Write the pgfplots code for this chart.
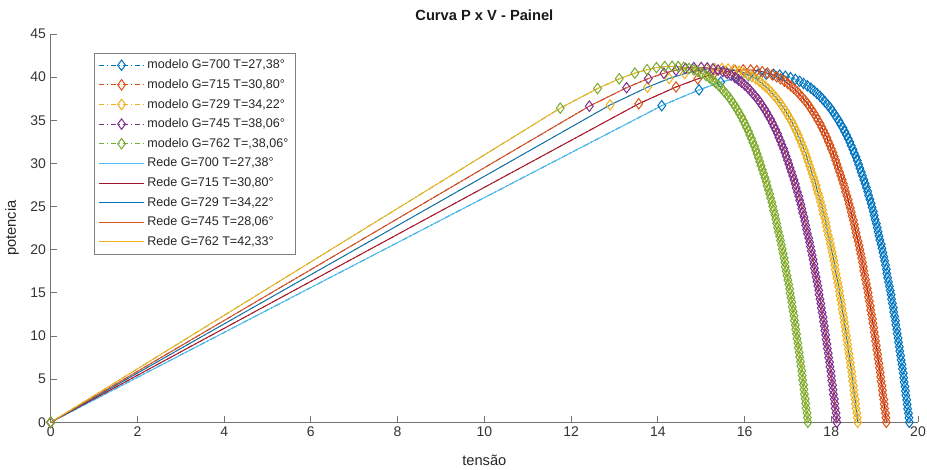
\documentclass[border=0pt]{standalone}
\usepackage{fontspec}
\setmainfont{Liberation Sans}
\usepackage{pgfplots}
\pgfplotsset{compat=1.18}
\usepackage{pgfplotstable}

% MATLAB default colour order
\definecolor{mblue}{rgb}{0,0.447,0.741}
\definecolor{morange}{rgb}{0.850,0.325,0.098}
\definecolor{myellow}{rgb}{0.929,0.694,0.125}
\definecolor{mpurple}{rgb}{0.494,0.184,0.556}
\definecolor{mgreen}{rgb}{0.466,0.674,0.188}
\definecolor{mcyan}{rgb}{0.301,0.745,0.933}
\definecolor{mred}{rgb}{0.635,0.078,0.184}

% G=700
\pgfplotstableread{
V P
0 0
14.09 36.69
14.95 38.53
15.45 39.42
15.81 39.91
16.09 40.19
16.31 40.33
16.50 40.36
16.67 40.33
16.81 40.24
16.94 40.11
17.06 39.94
17.17 39.74
17.27 39.52
17.36 39.27
17.45 39.00
17.53 38.72
17.60 38.43
17.67 38.11
17.74 37.79
17.80 37.46
17.86 37.12
17.92 36.77
17.98 36.41
18.03 36.04
18.08 35.66
18.13 35.28
18.18 34.90
18.22 34.50
18.27 34.11
18.31 33.70
18.35 33.30
18.39 32.88
18.43 32.47
18.46 32.05
18.50 31.62
18.53 31.19
18.57 30.76
18.60 30.33
18.63 29.89
18.66 29.45
18.69 29.01
18.72 28.56
18.75 28.11
18.78 27.66
18.81 27.21
18.84 26.75
18.86 26.29
18.89 25.83
18.92 25.37
18.94 24.91
18.97 24.44
18.99 23.97
19.01 23.50
19.04 23.03
19.06 22.56
19.08 22.08
19.10 21.60
19.12 21.12
19.15 20.64
19.17 20.16
19.19 19.68
19.21 19.20
19.23 18.71
19.25 18.22
19.27 17.73
19.28 17.24
19.30 16.75
19.32 16.26
19.34 15.77
19.36 15.27
19.38 14.78
19.39 14.28
19.41 13.78
19.43 13.28
19.44 12.78
19.46 12.28
19.48 11.78
19.49 11.28
19.51 10.77
19.52 10.27
19.54 9.76
19.55 9.26
19.57 8.75
19.58 8.24
19.60 7.73
19.61 7.22
19.63 6.71
19.64 6.20
19.66 5.69
19.67 5.17
19.68 4.66
19.70 4.14
19.71 3.63
19.72 3.11
19.74 2.60
19.75 2.08
19.76 1.56
19.78 1.04
19.79 0.52
19.80 0
}\tabA

% G=715
\pgfplotstableread{
V P
0 0
13.56 36.92
14.42 38.86
14.92 39.80
15.28 40.34
15.56 40.64
15.78 40.79
15.97 40.85
16.14 40.83
16.28 40.75
16.41 40.63
16.53 40.46
16.64 40.27
16.74 40.05
16.83 39.81
16.92 39.54
17.00 39.26
17.07 38.97
17.14 38.66
17.21 38.34
17.27 38.00
17.33 37.66
17.39 37.31
17.45 36.95
17.50 36.58
17.55 36.20
17.60 35.82
17.65 35.42
17.69 35.03
17.74 34.63
17.78 34.22
17.82 33.81
17.86 33.39
17.90 32.97
17.93 32.55
17.97 32.12
18.00 31.69
18.04 31.25
18.07 30.81
18.10 30.37
18.13 29.92
18.16 29.47
18.19 29.02
18.22 28.57
18.25 28.11
18.28 27.65
18.31 27.19
18.33 26.72
18.36 26.25
18.39 25.79
18.41 25.31
18.44 24.84
18.46 24.37
18.48 23.89
18.51 23.41
18.53 22.93
18.55 22.45
18.57 21.96
18.59 21.48
18.62 20.99
18.64 20.50
18.66 20.01
18.68 19.52
18.70 19.02
18.72 18.53
18.74 18.03
18.75 17.54
18.77 17.04
18.79 16.54
18.81 16.04
18.83 15.53
18.85 15.03
18.86 14.52
18.88 14.02
18.90 13.51
18.91 13.00
18.93 12.49
18.95 11.98
18.96 11.47
18.98 10.96
18.99 10.45
19.01 9.93
19.02 9.42
19.04 8.90
19.05 8.38
19.07 7.87
19.08 7.35
19.10 6.83
19.11 6.31
19.13 5.79
19.14 5.26
19.15 4.74
19.17 4.22
19.18 3.69
19.19 3.17
19.21 2.64
19.22 2.11
19.23 1.59
19.25 1.06
19.26 0.53
19.27 0
}\tabB

% G=729
\pgfplotstableread{
V P
0 0
12.90 36.78
13.76 38.83
14.26 39.84
14.62 40.42
14.90 40.75
15.12 40.94
15.31 41.01
15.48 41.01
15.62 40.95
15.75 40.84
15.87 40.69
15.98 40.50
16.08 40.29
16.17 40.05
16.26 39.80
16.34 39.52
16.41 39.23
16.48 38.93
16.55 38.61
16.61 38.28
16.67 37.94
16.73 37.59
16.79 37.23
16.84 36.86
16.89 36.48
16.94 36.10
16.99 35.71
17.03 35.32
17.08 34.92
17.12 34.51
17.16 34.10
17.20 33.68
17.24 33.26
17.27 32.83
17.31 32.40
17.34 31.97
17.38 31.53
17.41 31.09
17.44 30.64
17.47 30.19
17.50 29.74
17.53 29.29
17.56 28.83
17.59 28.37
17.62 27.91
17.65 27.44
17.67 26.98
17.70 26.51
17.73 26.04
17.75 25.56
17.78 25.08
17.80 24.61
17.82 24.12
17.85 23.64
17.87 23.16
17.89 22.67
17.91 22.18
17.93 21.69
17.96 21.20
17.98 20.71
18.00 20.21
18.02 19.72
18.04 19.22
18.06 18.72
18.08 18.22
18.09 17.72
18.11 17.22
18.13 16.71
18.15 16.20
18.17 15.70
18.19 15.19
18.20 14.68
18.22 14.17
18.24 13.66
18.25 13.14
18.27 12.63
18.29 12.11
18.30 11.60
18.32 11.08
18.33 10.56
18.35 10.04
18.36 9.52
18.38 9.00
18.39 8.48
18.41 7.95
18.42 7.43
18.44 6.90
18.45 6.38
18.47 5.85
18.48 5.32
18.49 4.79
18.51 4.26
18.52 3.73
18.53 3.20
18.55 2.67
18.56 2.14
18.57 1.60
18.59 1.07
18.60 0.54
18.61 0
}\tabC

% G=745
\pgfplotstableread{
V P
0 0
12.42 36.64
13.28 38.78
13.78 39.84
14.14 40.45
14.42 40.81
14.64 41.01
14.83 41.11
15.00 41.12
15.14 41.07
15.27 40.97
15.39 40.83
15.50 40.65
15.60 40.44
15.69 40.22
15.78 39.96
15.86 39.69
15.93 39.41
16.00 39.11
16.07 38.79
16.13 38.46
16.19 38.13
16.25 37.78
16.31 37.42
16.36 37.05
16.41 36.68
16.46 36.30
16.51 35.91
16.55 35.51
16.60 35.11
16.64 34.70
16.68 34.29
16.72 33.88
16.76 33.45
16.79 33.03
16.83 32.60
16.86 32.16
16.90 31.72
16.93 31.28
16.96 30.83
16.99 30.38
17.02 29.93
17.05 29.48
17.08 29.02
17.11 28.56
17.14 28.09
17.17 27.63
17.19 27.16
17.22 26.68
17.25 26.21
17.27 25.73
17.30 25.25
17.32 24.77
17.34 24.29
17.37 23.81
17.39 23.32
17.41 22.83
17.43 22.34
17.45 21.85
17.48 21.35
17.50 20.86
17.52 20.36
17.54 19.86
17.56 19.36
17.58 18.86
17.60 18.35
17.61 17.85
17.63 17.34
17.65 16.83
17.67 16.32
17.69 15.81
17.71 15.30
17.72 14.79
17.74 14.27
17.76 13.76
17.77 13.24
17.79 12.72
17.81 12.20
17.82 11.68
17.84 11.16
17.85 10.64
17.87 10.12
17.88 9.59
17.90 9.07
17.91 8.54
17.93 8.01
17.94 7.49
17.96 6.96
17.97 6.43
17.99 5.90
18.00 5.36
18.01 4.83
18.03 4.30
18.04 3.76
18.05 3.23
18.07 2.69
18.08 2.16
18.09 1.62
18.11 1.08
18.12 0.54
18.13 0
}\tabD

% G=762
\pgfplotstableread{
V P
0 0
11.75 36.41
12.61 38.68
13.11 39.81
13.47 40.47
13.75 40.87
13.97 41.11
14.16 41.23
14.33 41.26
14.47 41.23
14.60 41.14
14.72 41.01
14.83 40.85
14.93 40.66
15.02 40.44
15.11 40.19
15.19 39.93
15.26 39.65
15.33 39.36
15.40 39.05
15.46 38.72
15.52 38.39
15.58 38.04
15.64 37.69
15.69 37.32
15.74 36.95
15.79 36.57
15.84 36.18
15.88 35.79
15.93 35.39
15.97 34.98
16.01 34.57
16.05 34.15
16.09 33.73
16.12 33.31
16.16 32.87
16.19 32.44
16.23 32.00
16.26 31.55
16.29 31.11
16.32 30.66
16.35 30.20
16.38 29.74
16.41 29.28
16.44 28.82
16.47 28.35
16.50 27.88
16.52 27.41
16.55 26.94
16.58 26.46
16.60 25.98
16.63 25.50
16.65 25.01
16.67 24.53
16.70 24.04
16.72 23.55
16.74 23.06
16.76 22.56
16.78 22.06
16.81 21.57
16.83 21.07
16.85 20.57
16.87 20.06
16.89 19.56
16.91 19.05
16.93 18.54
16.94 18.03
16.96 17.52
16.98 17.01
17.00 16.49
17.02 15.98
17.04 15.46
17.05 14.94
17.07 14.43
17.09 13.91
17.10 13.38
17.12 12.86
17.14 12.34
17.15 11.81
17.17 11.28
17.18 10.76
17.20 10.23
17.21 9.70
17.23 9.17
17.24 8.64
17.26 8.10
17.27 7.57
17.29 7.03
17.30 6.50
17.32 5.96
17.33 5.42
17.34 4.89
17.36 4.35
17.37 3.81
17.38 3.26
17.40 2.72
17.41 2.18
17.42 1.64
17.44 1.09
17.45 0.55
17.46 0
}\tabE

\begin{document}
\begin{tikzpicture}
\begin{axis}[
  at={(0,0)}, anchor=south west,
  width=650pt, height=291pt, scale only axis,
  xmin=0, xmax=20, ymin=0, ymax=45,
  xtick={0,2,...,20}, ytick={0,5,...,45},
  axis lines=left,
  axis line style={-, black!55, line width=0.6pt},
  tick align=inside, major tick length=5pt,
  tick style={black!55, line width=0.6pt},
  ticklabel style={font=\fontsize{10.5}{12}\selectfont, text=black!80},
  /pgf/number format/assume math mode=true,
  clip=false,
  title={Curva P x V - Painel},
  every axis title shift=0pt,
  title style={at={(axis description cs:0.5,1.048)}, anchor=center,
    font=\fontsize{11}{13}\selectfont\bfseries, text=black!90},
  xlabel={tensão},
  xlabel style={at={(axis description cs:0.5,-0.097)}, anchor=center,
    font=\fontsize{11}{13}\selectfont, text=black!85},
  ylabel={potencia},
  ylabel style={at={(axis description cs:-0.0446,0.5)}, anchor=center,
    font=\fontsize{11}{13}\selectfont, text=black!85},
  legend style={at={(0.05,0.952)}, anchor=north west, draw=black!50,
    line width=0.5pt, font=\fontsize{9.4}{11}\selectfont, text=black!85,
    row sep=2.4pt, inner xsep=3pt, inner ysep=3pt},
  legend cell align=left,
  legend image code/.code={\draw[mark repeat=2,mark phase=2]
    plot coordinates {(0pt,0pt) (17pt,0pt) (34pt,0pt)};},
  modelo/.style={line width=0.7pt, dash pattern=on 4pt off 2pt on 1pt off 2pt,
    mark=diamond, mark size=3.9pt, mark options={solid, line width=0.75pt}},
  rede/.style={line width=0.7pt, solid},
]
\addplot[modelo, color=mblue] table {\tabA};
\addlegendentry{modelo G=700 T=27,38°}
\addplot[modelo, color=morange] table {\tabB};
\addlegendentry{modelo G=715 T=30,80°}
\addplot[modelo, color=myellow] table {\tabC};
\addlegendentry{modelo G=729 T=34,22°}
\addplot[modelo, color=mpurple] table {\tabD};
\addlegendentry{modelo G=745 T=38,06°}
\addplot[modelo, color=mgreen] table {\tabE};
\addlegendentry{modelo G=762 T=,38,06°}
\addplot[rede, color=mcyan] table {\tabA};
\addlegendentry{Rede G=700 T=27,38°}
\addplot[rede, color=mred] table {\tabB};
\addlegendentry{Rede G=715 T=30,80°}
\addplot[rede, color=mblue] table {\tabC};
\addlegendentry{Rede G=729 T=34,22°}
\addplot[rede, color=morange] table {\tabD};
\addlegendentry{Rede G=745 T=28,06°}
\addplot[rede, color=myellow] table {\tabE};
\addlegendentry{Rede G=762 T=42,33°}
\end{axis}
\pgfresetboundingbox
\path[use as bounding box] (-38pt,-35.5pt) rectangle (656.75pt,316.5pt);
\end{tikzpicture}
\end{document}
